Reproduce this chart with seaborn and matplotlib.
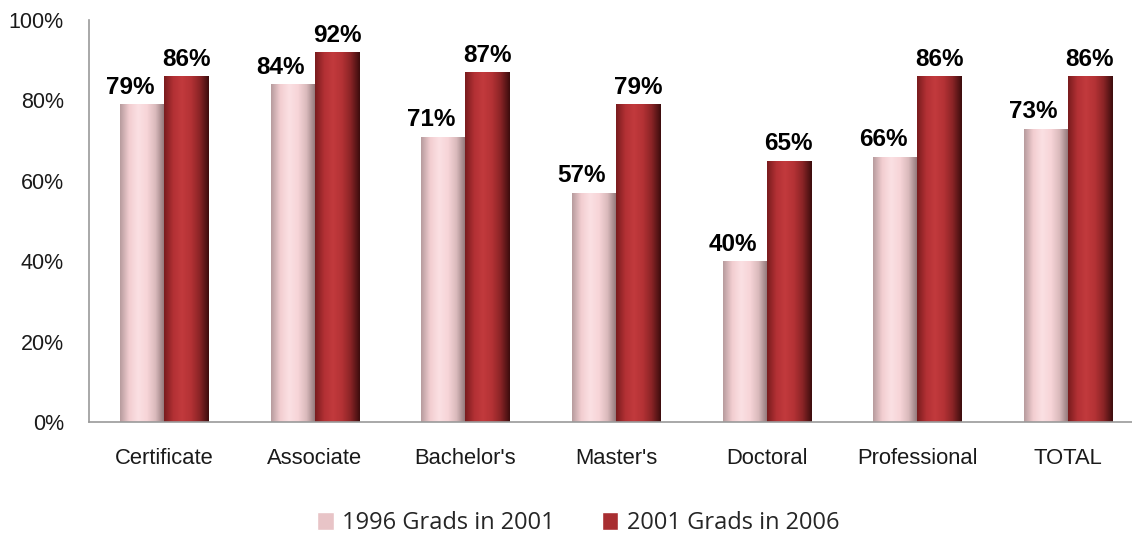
import numpy as np
import pandas as pd
import matplotlib
matplotlib.use("Agg")
import matplotlib.pyplot as plt
import seaborn as sns
from matplotlib.colors import LinearSegmentedColormap

categories = ["Certificate", "Associate", "Bachelor's", "Master's", "Doctoral", "Professional", "TOTAL"]
grads_1996 = [79, 84, 71, 57, 40, 66, 73]
grads_2001 = [86, 92, 87, 79, 65, 86, 86]
series = ["1996 Grads in 2001", "2001 Grads in 2006"]

df = pd.DataFrame({
    "Degree": categories * 2,
    "Rate": grads_1996 + grads_2001,
    "Cohort": [series[0]] * len(categories) + [series[1]] * len(categories),
})

sns.set_theme(style="white")
plt.rcParams["font.family"] = ["Liberation Sans", "DejaVu Sans"]

fig = plt.figure(figsize=(11.32, 5.37), dpi=100)
ax = fig.add_axes([89 / 1132, 1 - 422 / 537, (1143 - 89) / 1132, (422 - 20) / 537])

palette = {series[0]: "#E8C4C7", series[1]: "#A82E31"}
sns.barplot(data=df, x="Degree", y="Rate", hue="Cohort", palette=palette,
            width=0.585, saturation=1, ax=ax, legend=True)

# shading to fake the bevelled look
shades = {
    series[0]: ["#B89C9E", "#F2CDD0", "#FBE0E3", "#F7D5D8", "#D9B9BB", "#8E7476"],
    series[1]: ["#7A1C1E", "#B23034", "#C23A3D", "#B43235", "#8A2426", "#3E0D0E"],
}
ax.set_xlim(-0.5, len(categories) - 0.5)
ax.set_ylim(0, 100)
for container, name in zip(ax.containers, series):
    cmap = LinearSegmentedColormap.from_list(name, shades[name])
    for bar in container:
        x0, y0 = bar.get_x(), bar.get_y()
        w, h = bar.get_width(), bar.get_height()
        grad = np.linspace(0, 1, 64).reshape(1, -1)
        im = ax.imshow(grad, cmap=cmap, aspect="auto", extent=(x0, x0 + w, y0, y0 + h),
                       zorder=bar.get_zorder() + 0.1)
        im.set_clip_path(bar)
        bar.set_edgecolor("none")
    ax.set_xlim(-0.5, len(categories) - 0.5)
    ax.set_ylim(0, 100)

for container, name in zip(ax.containers, series):
    for bar in container:
        cx = bar.get_x() + bar.get_width() / 2
        if name == series[0]:
            cx -= 0.08
        ax.annotate(f"{bar.get_height():.0f}%", (cx, bar.get_height()),
                    xytext=(0, 4), textcoords="offset points", ha="center", va="bottom",
                    fontsize=17.5, fontweight="bold", color="black", zorder=5)

ax.set_yticks(range(0, 101, 20))
ax.set_yticklabels([f"{v}%" for v in range(0, 101, 20)])
ax.tick_params(axis="y", length=0, pad=18, labelsize=15.5, colors="#1a1a1a")
ax.tick_params(axis="x", length=0, pad=19, labelsize=15.8, colors="#1a1a1a")
ax.set_xlabel("")
ax.set_ylabel("")
for side in ["top", "right"]:
    ax.spines[side].set_visible(False)
for side in ["left", "bottom"]:
    ax.spines[side].set_color("#9a9a9a")
    ax.spines[side].set_linewidth(1.2)

handles, labels = ax.get_legend_handles_labels()
ax.legend_.remove()
fig.legend(handles, labels, loc="center", bbox_to_anchor=(578 / 1132, 1 - 523 / 537),
           ncol=2, frameon=False, handlelength=0.7, handleheight=0.8, handletextpad=0.35,
           columnspacing=2.0, prop={"family": "Open Sans", "size": 17})

fig.savefig("out.png", dpi=100)
